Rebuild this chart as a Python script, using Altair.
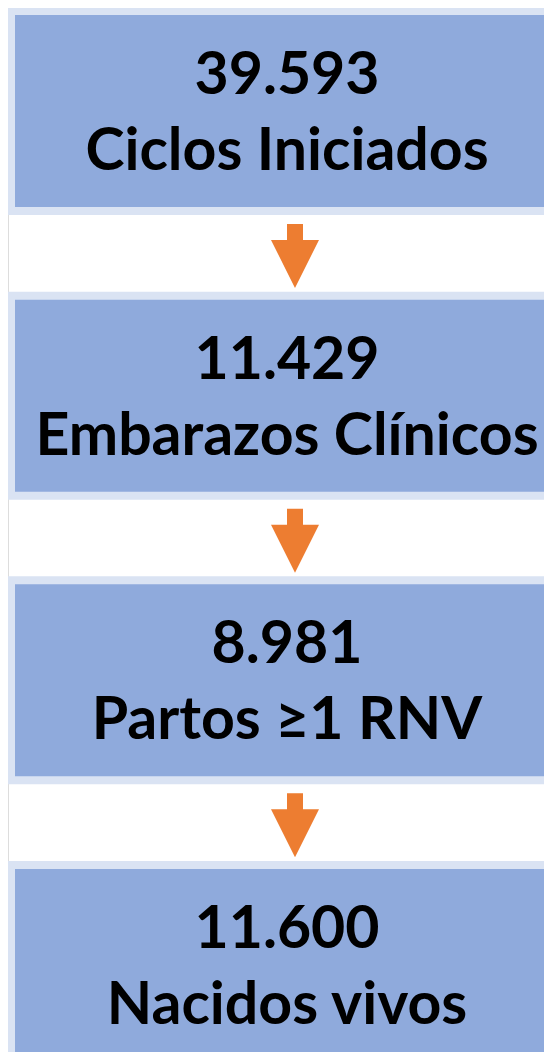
import altair as alt
import pandas as pd

# Data
steps = [0, 1, 2, 3]
values = ["39.593", "11.429", "8.981", "11.600"]
labels = ["Ciclos Iniciados", "Embarazos Clínicos", "Partos ≥1 RNV", "Nacidos vivos"]

df = pd.DataFrame({"step": steps, "value": values, "label": labels})

FILL = "#8FAADC"
BORDER = "#DAE3F3"
ARROW = "#ED7D31"
FONT = "Lato"
FS = 59

yscale = alt.Scale(range=[3, 1057], paddingInner=0.2975, paddingOuter=0)
Y = alt.Y("step:O", scale=yscale, axis=None)

base = alt.Chart(df)

boxes = base.mark_rect(fill=FILL, stroke=BORDER, strokeWidth=8).encode(
    y=Y, x=alt.value(3), x2=alt.value(640)
)

num = base.mark_text(font=FONT, fontSize=FS, fontWeight="bold", color="black",
                     baseline="alphabetic", align="center", dy=-17).encode(
    y=Y, x=alt.value(279), text="value:N"
)

lab = base.mark_text(font=FONT, fontSize=FS, fontWeight="bold", color="black",
                     baseline="alphabetic", align="center", dy=59).encode(
    y=Y, x=alt.value(279), text="label:N"
)

arrow_path = "M-0.25,-1 L0.25,-1 L0.25,-0.5 L0.75,-0.5 L0,1 L-0.75,-0.5 L-0.25,-0.5 Z"
arrows = base.transform_filter("datum.step < 3").mark_point(
    shape=arrow_path, filled=True, fill=ARROW, stroke=None, opacity=1, size=4096, yOffset=145
).encode(y=Y, x=alt.value(287))

chart = alt.layer(boxes, arrows, num, lab).properties(
    width=536, height=1044, padding=0, autosize=alt.AutoSizeParams(type="none")
).configure_view(stroke=None).configure(background="white")

chart.save("out.html", embed_options={"renderer": "svg", "actions": False})
